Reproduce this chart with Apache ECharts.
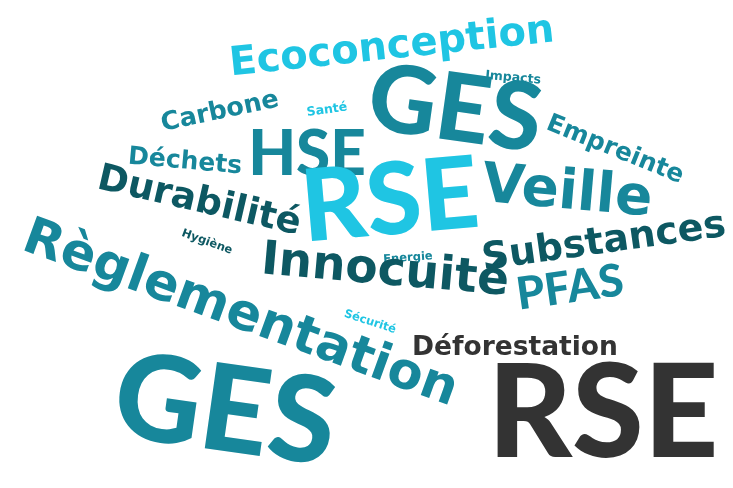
<!DOCTYPE html>
<html><head><meta charset="utf-8">
<script src="https://cdn.jsdelivr.net/npm/echarts@6/dist/echarts.min.js"></script>
<style>html,body{margin:0;padding:0;background:#fff}#c{width:733px;height:488px}</style>
</head><body><div id="c"></div>
<script>
// Word cloud data: words and their weights (font sizes), colour groups
const words   = ['Ecoconception','GES','Impacts','Carbone','Santé','HSE','Déchets','Durabilité','RSE','Empreinte','Veille','Hygiène','Règlementation','Substances','Energie','Innocuité','PFAS','Sécurité','Déforestation','GES','RSE'];
const weights = [40, 94, 12.5, 25.5, 12.5, 62, 25, 37, 100, 25, 55, 11.5, 51, 38, 11.5, 47, 45, 11.5, 26.5, 120, 130];
const groups  = ['cyan','teal','teal','teal','cyan','teal','teal','dark','cyan','teal','teal','dark','teal','dark','teal','dark','teal','cyan','gray','teal','gray'];

// layout of the cloud (word centre in pixel space and rotation, degrees anticlockwise)
const layoutX = [392, 455, 513, 220, 327, 307, 185, 199, 390, 615, 567, 207, 240, 604, 408, 385, 570, 370, 515, 225, 603];
const layoutY = [ 48, 110,  78, 112, 110, 155, 162, 202, 202, 150, 194, 242, 315, 243, 258, 272, 288, 322, 348, 412, 415];
const layoutR = [  6,  -8,  -5,  12,   8,   0,  -5, -13,   5, -22,  -5, -20, -20,   8,   4,  -5,   8, -18,   0,  -8,   0];

const palette = {cyan:'#1fc5e3', teal:'#17879b', dark:'#0d5862', gray:'#333333'};

const data = words.map((w,i)=>{
  const capsOnly = w === w.toUpperCase();
  return {
    name: w,
    value: [layoutX[i], layoutY[i]],
    label: {
      show: true, formatter: w, rotate: layoutR[i],
      fontSize: weights[i], color: palette[groups[i]],
      fontFamily: capsOnly ? 'Lato' : 'DejaVu Sans',
      fontWeight: capsOnly ? 900 : 'bold'
    }
  };
});

const chart = echarts.init(document.getElementById('c'));
chart.setOption({
  backgroundColor:'#fff',
  animation:false,
  grid:{left:0,right:0,top:0,bottom:0},
  xAxis:{type:'value',min:0,max:733,show:false},
  yAxis:{type:'value',min:0,max:488,inverse:true,show:false},
  series:[{
    type:'scatter',
    symbolSize:0,
    itemStyle:{opacity:1},
    data:data,
    label:{position:'inside',align:'center',verticalAlign:'middle',opacity:1}
  }]
});
</script>
</body></html>
